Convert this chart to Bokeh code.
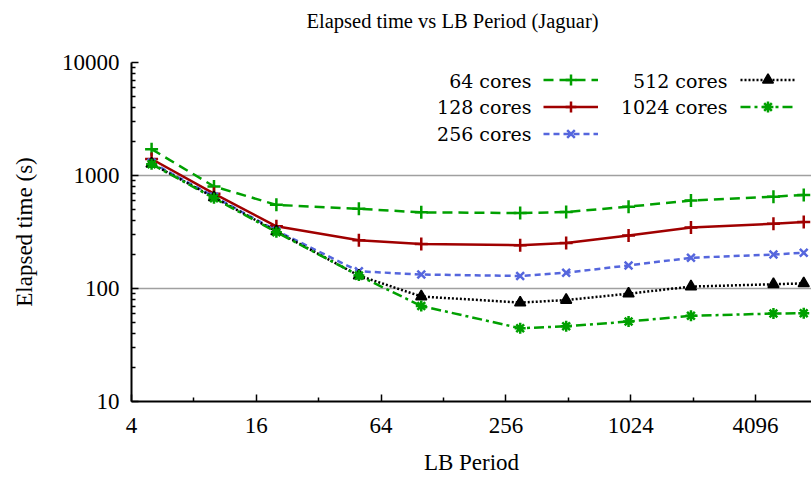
from bokeh.plotting import figure
from bokeh.models import (FixedTicker, Legend, LegendItem, Range1d,
                          NumeralTickFormatter, Title, Label)
from bokeh.core.properties import value
from bokeh.embed import file_html
from bokeh.resources import INLINE

# ---- data ----
lb_period = [5, 10, 20, 50, 100, 300, 500, 1000, 2000, 5000, 7000]
cores_64 = [1710, 800, 550, 507, 472, 465, 475, 530, 600, 650, 672]
cores_128 = [1400, 690, 355, 267, 248, 242, 253, 295, 347, 374, 387]
cores_256 = [1300, 650, 325, 142, 133, 129, 138, 160, 187, 200, 207]
cores_512 = [1270, 640, 320, 130, 85, 75, 79, 90, 104, 109, 111]
cores_1024 = [1260, 630, 315, 130, 70, 44.5, 46.3, 51, 57.3, 60, 60.5]

series_labels = ["64 cores", "128 cores", "256 cores", "512 cores", "1024 cores"]

x_ticks = [4, 16, 64, 256, 1024, 4096]
x_minor_ticks = [8, 32, 128, 512, 2048]
y_ticks = [10, 100, 1000, 10000]
y_minor_ticks = [20, 30, 40, 50, 60, 70, 80, 90,
                 200, 300, 400, 500, 600, 700, 800, 900,
                 2000, 3000, 4000, 5000, 6000, 7000, 8000, 9000]

title_text = "Elapsed time vs LB Period (Jaguar)"
x_label = "LB Period"
y_label = "Elapsed time (s)"

FONT = "Liberation Serif"
KEY_FONT = "DejaVu Serif"

p = figure(width=811, height=477,
           x_axis_type="log", y_axis_type="log",
           x_range=Range1d(4, 7630), y_range=Range1d(10, 10000),
           output_backend="svg", toolbar_location=None,
           min_border_left=131, min_border_right=0,
           min_border_top=62, min_border_bottom=74,
           title=title_text)

p.outline_line_color = None
p.background_fill_color = "white"

# real title, with an empty spacer title between it and the frame
p.title.text_font = FONT
p.title.text_font_size = "20.5px"
p.title.text_font_style = "normal"
p.title.text_color = "black"
p.title.align = "left"
p.title.offset = 175
p.title.standoff = 0
spacer = Title(text=" ", text_font=FONT, text_font_size="22px", standoff=4)
p.add_layout(spacer, "above")

# axes
for ax in (p.xaxis[0], p.yaxis[0]):
    ax.axis_line_width = 2
    ax.axis_line_color = "black"
    ax.major_tick_line_width = 1.5
    ax.minor_tick_line_width = 1.5
    ax.major_tick_line_color = "black"
    ax.minor_tick_line_color = "black"
    ax.major_tick_in = 7
    ax.major_tick_out = 0
    ax.minor_tick_in = 4
    ax.minor_tick_out = 0
    ax.major_label_text_font = FONT
    ax.major_label_text_font_size = "23px"
    ax.major_label_text_color = "black"
    ax.axis_label_text_font = FONT
    ax.axis_label_text_font_size = "23px"
    ax.axis_label_text_font_style = "normal"
    ax.axis_label_text_color = "black"
    ax.axis_label_text_line_height = 1.0
    ax.formatter = NumeralTickFormatter(format="0")

p.xaxis.ticker = FixedTicker(ticks=x_ticks, minor_ticks=x_minor_ticks)
p.yaxis.ticker = FixedTicker(ticks=y_ticks, minor_ticks=y_minor_ticks)
p.xaxis.axis_label = x_label
p.yaxis.axis_label = y_label
p.xaxis.major_label_standoff = 16
p.yaxis.major_label_standoff = 12
p.xaxis.axis_label_standoff = 14
p.yaxis.axis_label_standoff = 22

p.xgrid.visible = False
p.ygrid.ticker = FixedTicker(ticks=y_ticks)
p.ygrid.grid_line_color = "#a0a0a0"
p.ygrid.grid_line_width = 1.5

GREEN = "#00a000"
RED = "#a00000"
BLUE = "#5566dd"
BLACK = "#000000"

styles = [
    (cores_64, GREEN, "10 6", "cross", 13),
    (cores_128, RED, "solid", "cross", 13),
    (cores_256, BLUE, "6 4", "x", 11),
    (cores_512, BLACK, "2 2", "triangle", 11),
    (cores_1024, GREEN, "10 4 3 4", "asterisk", 11),
]

items = []
for (vals, color, dash, marker, size), lab in zip(styles, series_labels):
    r_line = p.line(lb_period, vals, line_color=color, line_width=2.5, line_dash=dash)
    if marker == "triangle":
        r_mark = p.scatter(lb_period, vals, marker=marker, size=size,
                           fill_color=color, line_color=color, line_width=1.5)
    else:
        r_mark = p.scatter(lb_period, vals, marker=marker, size=size,
                           line_color=color, fill_color=color, line_width=2.5)
    items.append(LegendItem(label=value(" "), renderers=[r_line, r_mark]))

# key samples (gnuplot style: sample to the right of the text)
legend = Legend(items=items, ncols=2, location=(412, 254))
legend.label_text_font_size = "8px"
legend.label_width = 142
legend.label_height = 10
legend.glyph_width = 55
legend.glyph_height = 27
legend.label_standoff = 0
legend.spacing = 0
legend.padding = 0
legend.margin = 0
legend.border_line_color = None
legend.background_fill_alpha = 0
p.add_layout(legend, "center")

# key texts, right-aligned, in frame screen units
key_text_x = [400, 400, 400, 596, 596]
key_text_y = [321, 295, 268, 321, 295]
for lab, kx, ky in zip(series_labels, key_text_x, key_text_y):
    p.add_layout(Label(x=kx, y=ky, x_units="screen", y_units="screen", text=lab,
                       text_align="right", text_baseline="middle",
                       text_font=KEY_FONT, text_font_size="19px",
                       text_color="black"))

open("out.html", "w").write(file_html(p, INLINE))
